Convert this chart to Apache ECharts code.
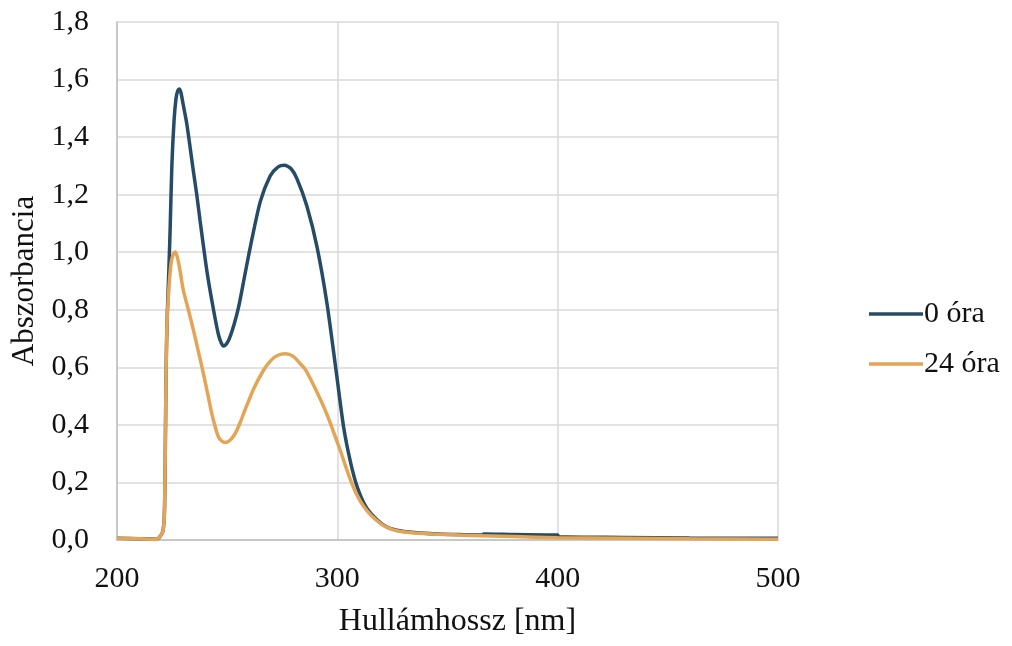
<!DOCTYPE html>
<html><head><meta charset="utf-8">
<script src="https://cdn.jsdelivr.net/npm/echarts@6/dist/echarts.min.js"></script>
<style>html,body{margin:0;padding:0;background:#fff}#c{width:1012px;height:646px}</style>
</head><body><div id="c"></div>
<script>
const seriesNames = ['0 óra', '24 óra'];
const xTicks = [200, 300, 400, 500];
const yTicks = [0, 0.2, 0.4, 0.6, 0.8, 1.0, 1.2, 1.4, 1.6, 1.8];

const darkWl  = [200,210,218,219.5,220.8,221.5,221.9,222.3,222.8,223.5,224.1,224.9,225.9,226.8,227.6,228.3,229.0,230.0,231.7,234.7,236.2,237.7,240.8,243.8,246,247.3,248.3,249.5,251,253,255.2,258,260.5,265,269.5,273,276,279,281.7,286.2,290.8,295.3,299.8,302.9,306,309,313,318,322,327,335,345,355,366,366.5,380,400,400.5,430,460,500];
const darkAbs = [0.006,0.004,0.003,0.012,0.03,0.09,0.3,0.6,0.78,0.93,1.076,1.3,1.458,1.535,1.562,1.567,1.555,1.515,1.445,1.28,1.2,1.11,0.935,0.8,0.715,0.685,0.674,0.68,0.7,0.745,0.81,0.92,1.018,1.175,1.265,1.296,1.302,1.29,1.255,1.16,1.018,0.822,0.567,0.39,0.27,0.185,0.115,0.07,0.047,0.034,0.026,0.021,0.019,0.017,0.021,0.019,0.017,0.011,0.009,0.007,0.006];

const orangeWl  = [200,210,218,219.5,220.8,221.5,221.9,222.3,222.6,223.3,224.5,225.5,226.4,227.3,228.3,230.1,232.4,234.7,237,239.2,241.1,243,244.5,246,247.5,249.1,250.5,252,254,256,258,262,266.5,270,273,276.4,280,283.5,285.5,288,291,294,297,299,301.4,303.5,305.9,309,312,315.5,319.5,323,327,335,345,360,380,400,430,460,500];
const orangeAbs = [0.006,0.004,0.002,0.012,0.03,0.09,0.3,0.6,0.73,0.845,0.96,0.993,1.001,0.985,0.95,0.868,0.8,0.729,0.653,0.579,0.51,0.44,0.395,0.359,0.344,0.339,0.342,0.352,0.375,0.41,0.45,0.525,0.59,0.625,0.642,0.647,0.638,0.61,0.592,0.557,0.51,0.46,0.403,0.36,0.31,0.262,0.21,0.155,0.116,0.084,0.058,0.042,0.032,0.024,0.02,0.016,0.012,0.008,0.006,0.004,0.003];

const pair = (xs, ys) => xs.map((x, i) => [x, ys[i]]);
const font = 'Liberation Serif';
const txt = '#111';
const chart = echarts.init(document.getElementById('c'));
chart.setOption({
  animation: false,
  grid: {left: 117, right: 234, top: 22, bottom: 106},
  xAxis: {
    type: 'value', min: xTicks[0], max: xTicks[xTicks.length-1], interval: 100,
    name: 'Hullámhossz [nm]', nameLocation: 'middle', nameGap: 66,
    nameTextStyle: {fontFamily: font, fontSize: 32, color: txt, padding: [0,0,0,20]},
    axisLine: {show: true, lineStyle: {color: '#bfbfbf', width: 1.5}},
    axisTick: {show: false},
    axisLabel: {fontFamily: font, fontSize: 30, color: txt, margin: 24},
    splitLine: {show: true, lineStyle: {color: '#d9d9d9', width: 1.5}}
  },
  yAxis: {
    type: 'value', min: yTicks[0], max: yTicks[yTicks.length-1], interval: 0.2,
    name: 'Abszorbancia', nameLocation: 'middle', nameGap: 74,
    nameTextStyle: {fontFamily: font, fontSize: 31, color: txt},
    axisLine: {show: true, lineStyle: {color: '#bfbfbf', width: 1.5}},
    axisTick: {show: false},
    axisLabel: {fontFamily: font, fontSize: 30, color: txt, margin: 28,
      formatter: v => v.toFixed(1).replace('.', ',')},
    splitLine: {show: true, lineStyle: {color: '#d9d9d9', width: 1.5}}
  },
  legend: {
    orient: 'vertical', left: 864, top: 294, itemGap: 20,
    itemWidth: 54, itemHeight: 3.5, icon: 'rect',
    textStyle: {fontFamily: font, fontSize: 30, color: txt, lineHeight: 28, padding: [0,0,0,-4]},
    data: seriesNames
  },
  series: [
    {name: seriesNames[0], type: 'line', data: pair(darkWl, darkAbs), showSymbol: false, symbol: 'none',
     smooth: 0.25, lineStyle: {color: '#264b66', width: 3.5}, itemStyle: {color: '#264b66'}, z: 3},
    {name: seriesNames[1], type: 'line', data: pair(orangeWl, orangeAbs), showSymbol: false, symbol: 'none',
     smooth: 0.25, lineStyle: {color: '#e3a555', width: 3.5}, itemStyle: {color: '#e3a555'}, z: 4}
  ]
});
</script></body></html>
